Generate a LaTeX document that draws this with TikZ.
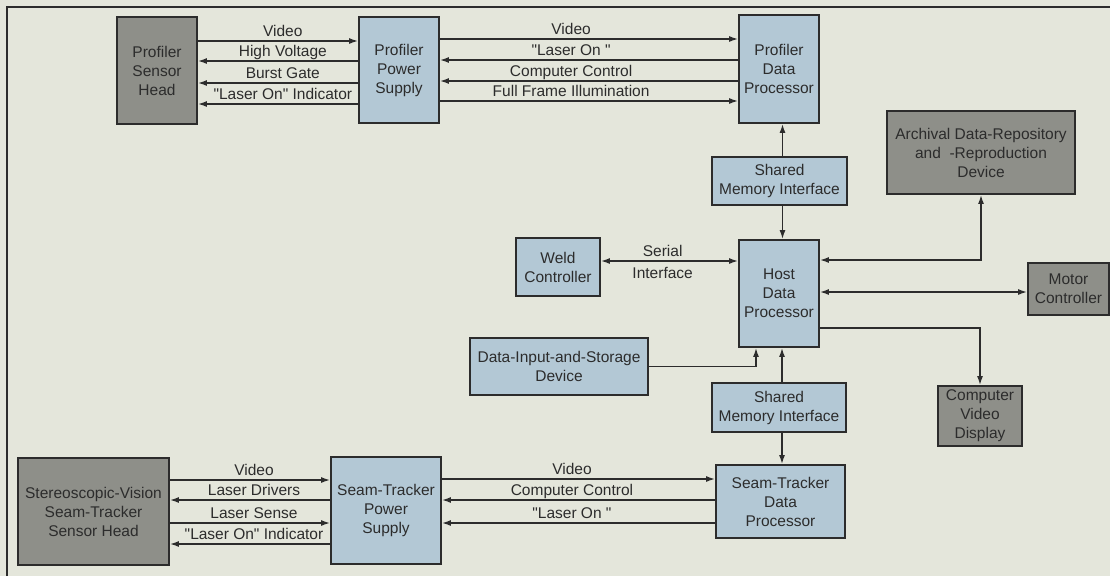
\documentclass[tikz,border=0pt]{standalone}
\usepackage{fontspec}
\setmainfont{Liberation Sans}[Ligatures=TeXOff]
\usetikzlibrary{arrows.meta,calc}
\definecolor{bg}{HTML}{E4E6DB}
\definecolor{bluebox}{HTML}{B3C8D5}
\definecolor{graybox}{HTML}{8E8F89}
\definecolor{ink}{HTML}{2C2C2C}
\begin{document}
\begin{tikzpicture}[x=1pt,y=-1pt,
  >={Latex[length=9pt,width=6pt]},
  box/.style={draw=ink, line width=1.8pt, text=ink, align=center, inner sep=0pt,
              font=\fontsize{15.5}{19}\selectfont},
  bbox/.style={box, fill=bluebox},
  gbox/.style={box, fill=graybox},
  conn/.style={draw=ink, line width=1.5pt},
  lbl/.style={font=\fontsize{15.5}{19}\selectfont, text=ink, inner sep=1pt,
              text height=11pt, text depth=3pt, anchor=south},
  lblb/.style={lbl, anchor=north, yshift=-5pt}]
\fill[bg] (0,0) rectangle (1110,576);
\useasboundingbox (0,0) rectangle (1110,576);
\draw[ink, line width=1.8pt] (7,576) -- (7,7) -- (1110,7);

% nodes
\node[gbox, minimum width=80pt, minimum height=107pt] (psh) at (157,70.5) {Profiler\\Sensor\\Head};
\node[bbox, minimum width=80pt, minimum height=106pt] (pps) at (399,70) {Profiler\\Power\\Supply};
\node[bbox, minimum width=80pt, minimum height=108pt] (pdp) at (779,69) {Profiler\\Data\\Processor};
\node[bbox, minimum width=135pt, minimum height=48pt] (smia) at (779.5,181) {Shared\\Memory Interface};
\node[gbox, minimum width=188pt, minimum height=83pt] (arch) at (981,152.5) {Archival Data-Repository\\and~~-Reproduction\\Device};
\node[bbox, minimum width=80pt, minimum height=107pt] (host) at (779,293.5) {Host\\Data\\Processor};
\node[bbox, minimum width=84pt, minimum height=58pt] (weld) at (558,267) {Weld\\Controller};
\node[gbox, minimum width=81pt, minimum height=52pt] (motor) at (1068.5,289) {Motor\\Controller};
\node[bbox, minimum width=178pt, minimum height=57pt] (dis) at (559,366.5) {Data-Input-and-Storage\\Device};
\node[gbox, minimum width=84pt, minimum height=60pt] (cvd) at (980,416) {Computer\\Video\\Display};
\node[bbox, minimum width=134pt, minimum height=49pt] (smib) at (779,407.5) {Shared\\Memory Interface};
\node[bbox, minimum width=129pt, minimum height=73pt] (stdp) at (780.5,501.5) {Seam-Tracker\\Data\\Processor};
\node[bbox, minimum width=110pt, minimum height=107pt] (stps) at (386,510.5) {Seam-Tracker\\Power\\Supply};
\node[gbox, minimum width=151pt, minimum height=107pt] (svsh) at (93.5,511.5) {Stereoscopic-Vision\\Seam-Tracker\\Sensor Head};

% profiler head <-> power supply
\draw[conn,->] (psh.east |- 0,41) -- node[lbl,pos=.53]{Video} (pps.west |- 0,41);
\draw[conn,<-] (psh.east |- 0,61) -- node[lbl,pos=.53]{High Voltage} (pps.west |- 0,61);
\draw[conn,<-] (psh.east |- 0,83) -- node[lbl,pos=.53]{Burst Gate} (pps.west |- 0,83);
\draw[conn,<-] (psh.east |- 0,104) -- node[lbl,pos=.53]{"Laser On" Indicator} (pps.west |- 0,104);

% profiler power supply <-> data processor
\draw[conn,->] (pps.east |- 0,39) -- node[lbl,pos=.44]{Video} (pdp.west |- 0,39);
\draw[conn,<-] (pps.east |- 0,60) -- node[lbl,pos=.44]{"Laser On "} (pdp.west |- 0,60);
\draw[conn,<-] (pps.east |- 0,81) -- node[lbl,pos=.44]{Computer Control} (pdp.west |- 0,81);
\draw[conn,->] (pps.east |- 0,101) -- node[lbl,pos=.44]{Full Frame Illumination} (pdp.west |- 0,101);

% shared memory links
\draw[conn,->] ([xshift=3pt]smia.north) -- ([xshift=3pt]smia.north |- pdp.south);
\draw[conn,->] ([xshift=3pt]smia.south) -- ([xshift=3pt]smia.south |- host.north);
\draw[conn,->] ([xshift=3pt]smib.north) -- ([xshift=3pt]smib.north |- host.south);
\draw[conn,->] ([xshift=3pt]smib.south) -- ([xshift=3pt]smib.south |- stdp.north);

% host links
\draw[conn,<->] (weld.east |- 0,261) -- node[lbl,pos=.45]{Serial} node[lblb,pos=.45]{Interface} (host.west |- 0,261);
\draw[conn,<->] (host.east |- 0,260) -| (arch.south);
\draw[conn,<->] (host.east |- 0,292) -- (motor.west |- 0,292);
\draw[conn,->] (host.east |- 0,328) -| (cvd.north);
\draw[conn,->] (dis.east) -| ([xshift=-23pt]host.south);

% seam tracker head <-> power supply
\draw[conn,->] (svsh.east |- 0,480) -- node[lbl,pos=.525]{Video} (stps.west |- 0,480);
\draw[conn,<-] (svsh.east |- 0,500) -- node[lbl,pos=.525]{Laser Drivers} (stps.west |- 0,500);
\draw[conn,->] (svsh.east |- 0,523) -- node[lbl,pos=.525]{Laser Sense} (stps.west |- 0,523);
\draw[conn,<-] (svsh.east |- 0,544) -- node[lbl,pos=.525]{"Laser On" Indicator} (stps.west |- 0,544);

% seam tracker power supply <-> data processor
\draw[conn,->] (stps.east |- 0,479) -- node[lbl,pos=.476]{Video} (stdp.west |- 0,479);
\draw[conn,<-] (stps.east |- 0,500) -- node[lbl,pos=.476]{Computer Control} (stdp.west |- 0,500);
\draw[conn,<-] (stps.east |- 0,523) -- node[lbl,pos=.476]{"Laser On "} (stdp.west |- 0,523);
\end{tikzpicture}
\end{document}
